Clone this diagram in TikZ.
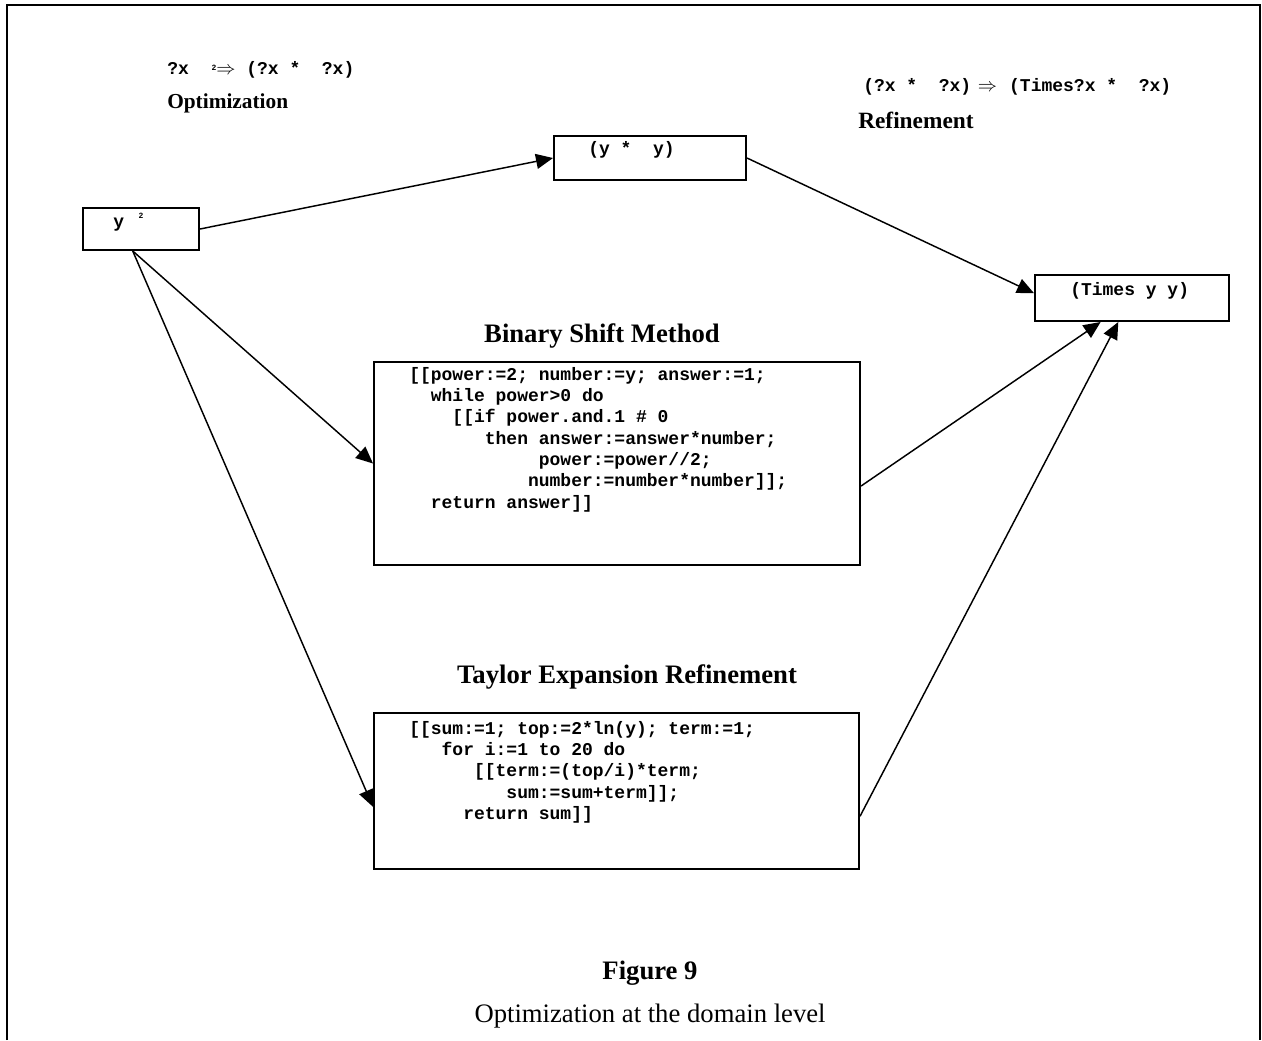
\documentclass[tikz,border=0pt]{standalone}
\usepackage{fontspec}
\setmainfont{Liberation Serif}
\newfontfamily\codefam{Liberation Mono}
\usetikzlibrary{arrows.meta,calc}

% bold monospaced program text; one character cell is 8.1pt wide
\newcommand\codefont{\codefam\bfseries\fontsize{13.5}{16}\selectfont}
\newcommand\ind[1]{\hspace*{\dimexpr 8.1pt*#1\relax}}
\newcommand\tinysup[2]{\raisebox{#1}{\fontsize{6}{6}\selectfont #2}}

\tikzset{
  box/.style={draw, line width=1.5pt, inner sep=0pt, anchor=north west},
  code/.style={font=\codefont, inner sep=0pt, anchor=base west},
  title/.style={font=\bfseries\fontsize{20}{24}\selectfont, inner sep=0pt, anchor=base},
  rule/.style={font=\bfseries\fontsize{16}{19}\selectfont, inner sep=0pt, anchor=base west},
  conn/.style={line width=1.1pt, -{Triangle[length=12.75pt,width=11.25pt]}},
}

\begin{document}
\begin{tikzpicture}[x=0.75pt,y=-0.75pt]
\useasboundingbox (0,0) rectangle (1262,1040);

% page frame (open at the bottom)
\draw[line width=1.5pt] (7,1040) -- (7,5) -- (1260,5) -- (1260,1040);

% rewrite rules
\node[code] (optrule) at (167,74)
  {?x\hspace{17pt}\tinysup{3pt}{2}$\Rightarrow$~(?x *~~?x)};
\node[rule] (optname) at (167,108) {Optimization};
\node[code] (refrule) at (863,91)
  {(?x *~~?x)\hspace{5pt}$\Rightarrow$\hspace{9pt}(Times?x *~~?x)};
\node[rule, font=\bfseries\fontsize{17.5}{20}\selectfont] (refname) at (858,128) {Refinement};

% expression boxes
\node[box, minimum width=87pt, minimum height=31.5pt] (ysq) at (82,207) {};
\node[code] (ysqtext) at (113,227) {y\hspace{11pt}\tinysup{6.75pt}{2}};

\node[box, minimum width=144pt, minimum height=33pt] (yy) at (553,135) {};
\node[code] (yytext) at (588,154) {(y *~~y)};

\node[box, minimum width=145.5pt, minimum height=34.5pt] (times) at (1034,274) {};
\node[code] (timestext) at (1070,295) {(Times y y)};

% binary shift method
\node[title] (bintitle) at (602,342) {Binary Shift Method};
\node[box, minimum width=364.5pt, minimum height=152.25pt] (bin) at (373,361) {};
\node[code] (bincode) at (409,380) {\begin{tabular}[t]{@{}l@{}}
[[power:=2; number:=y; answer:=1;\\
\ind{2}while power>0 do\\
\ind{4}[[if power.and.1 \# 0\\
\ind{7}then answer:=answer*number;\\
\ind{12}power:=power//2;\\
\ind{11}number:=number*number]];\\
\ind{2}return answer]]
\end{tabular}};

% Taylor expansion
\node[title] (taytitle) at (627,683) {Taylor Expansion Refinement};
\node[box, minimum width=363.75pt, minimum height=117pt] (tay) at (373,712) {};
\node[code] (taycode) at (409,734) {\begin{tabular}[t]{@{}l@{}}
[[sum:=1; top:=2*ln(y); term:=1;\\
\ind{3}for i:=1 to 20 do\\
\ind{6}[[term:=(top/i)*term;\\
\ind{9}sum:=sum+term]];\\
\ind{5}return sum]]
\end{tabular}};

% caption
\node[title] (fignum) at (650,979) {Figure 9};
\node[inner sep=0pt, anchor=base, font=\fontsize{20}{24}\selectfont] (figcap) at (650,1022)
  {Optimization at the domain level};

% connectors
\draw[conn] (ysq.east) -- (yy.west);
\draw[conn] (yy.east) -- ($(times.north west)!0.4!(times.south west)$);
\draw[conn] ($(ysq.south west)!0.43!(ysq.south east)$) -- (bin.west);
\draw[conn] ($(ysq.south west)!0.43!(ysq.south east)$) -- ($(tay.north west)!0.6!(tay.south west)$);
\draw[conn] ($(bin.north east)!0.61!(bin.south east)$) -- ($(times.south west)!0.34!(times.south east)$);
\draw[conn] ($(tay.north east)!0.66!(tay.south east)$) -- ($(times.south west)!0.43!(times.south east)$);
\end{tikzpicture}
\end{document}
